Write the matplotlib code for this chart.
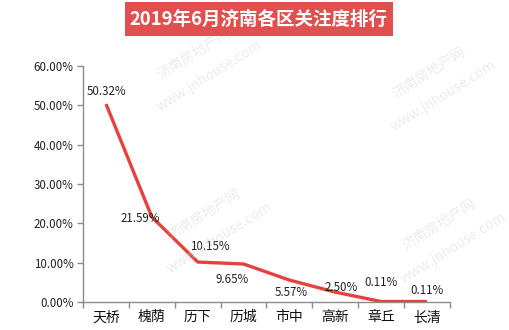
import matplotlib
matplotlib.use("Agg")
import matplotlib.pyplot as plt
import numpy as np

plt.rcParams['font.family'] = ['Noto Sans CJK SC', 'DejaVu Sans']

districts = ["天桥", "槐荫", "历下", "历城", "市中", "高新", "章丘", "长清"]
share = [50.32, 21.59, 10.15, 9.65, 5.57, 2.50, 0.11, 0.11]
yticks = [0, 10, 20, 30, 40, 50, 60]
title = "2019年6月济南各区关注度排行"

# label offsets in points (dx, dy)
label_pos = [(0, 9), (-8, -1), (9, 11), (-8, -11),
             (1, -9), (4, 3), (0, 14), (0, 8)]

fig = plt.figure(figsize=(5.1, 3.3), dpi=100)
ax = fig.add_axes([0.163, 0.085, 0.719, 0.715])

x = np.arange(len(districts))
ax.plot(x, share, color='#e8403c', lw=2.4, solid_capstyle='butt', zorder=3)

for xi, v, (dx, dy) in zip(x, share, label_pos):
    ax.annotate(f"{v:.2f}%", (xi, v), xytext=(dx, dy), textcoords='offset points',
                ha='center', va='center', fontsize=8.3, color='#222222', zorder=4)

ax.set_xlim(-0.5, len(districts) - 0.5)
ax.set_ylim(0, 60)
ax.set_yticks(yticks)
ax.set_yticklabels([f"{t:.2f}%" for t in yticks], fontsize=8.3, color='#222222')
ax.set_xticks(x)
ax.set_xticklabels(districts, fontsize=10, color='#111111')
ax.set_xticks(np.arange(-0.5, len(districts)), minor=True)
ax.tick_params(axis='x', which='major', length=0, pad=6)
ax.tick_params(axis='x', which='minor', length=4, color='#8c8c8c', width=1)
ax.tick_params(axis='y', length=4, color='#8c8c8c', width=1, pad=3)
for s in ['top', 'right']:
    ax.spines[s].set_visible(False)
for s in ['left', 'bottom']:
    ax.spines[s].set_color('#8c8c8c')
    ax.spines[s].set_linewidth(1)

# faint watermark
for (wx, wy) in [(0.38, 0.84), (0.84, 0.78), (0.4, 0.35), (0.86, 0.32)]:
    fig.text(wx, wy, "济南房地产网", rotation=32, fontsize=10, color='#d0d0d0',
             alpha=0.4, ha='center', va='center', zorder=0)
    fig.text(wx + 0.03, wy - 0.07, "www.jnhouse.com", rotation=32, fontsize=10,
             color='#d0d0d0', alpha=0.4, ha='center', va='center', zorder=0)

# title banner
fig.patches.append(plt.Rectangle((0.245, 0.89), 0.525, 0.103, transform=fig.transFigure,
                                 facecolor='#e14f4f', edgecolor='none'))
fig.text(0.5075, 0.941, title, ha='center', va='center', fontsize=13.3,
         fontweight='bold', color='white')

fig.savefig("out.png", dpi=100)
